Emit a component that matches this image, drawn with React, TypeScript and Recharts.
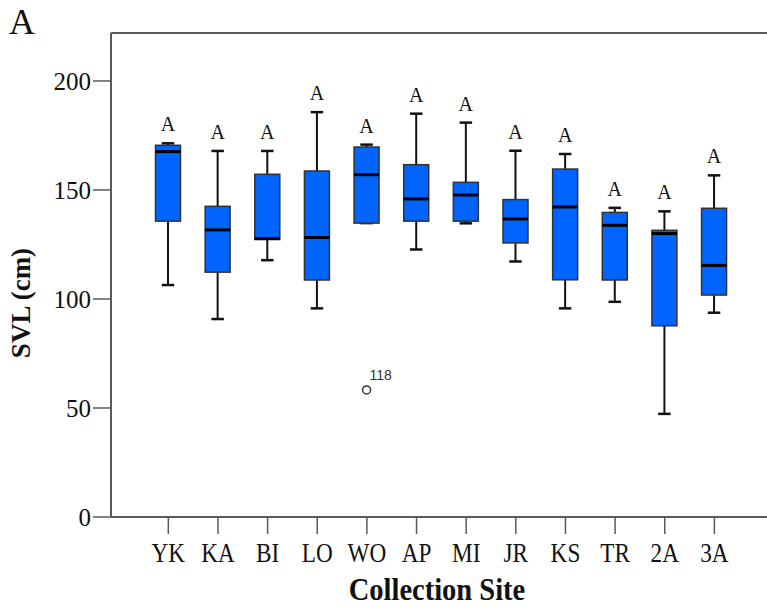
import { ComposedChart, Bar, XAxis, YAxis, ReferenceLine } from 'recharts';

// Snout-vent length by collection site
const SITES = ['YK', 'KA', 'BI', 'LO', 'WO', 'AP', 'MI', 'JR', 'KS', 'TR', '2A', '3A'];
const WHISKER_LOW = [106.4, 90.8, 117.8, 95.7, 134.8, 122.7, 134.7, 117.2, 95.7, 98.7, 47.3, 93.7];
const Q1 = [135.7, 112.3, 127.3, 108.7, 134.8, 135.7, 135.7, 125.7, 108.8, 108.7, 87.7, 101.8];
const MEDIAN = [167.6, 131.7, 127.7, 128.2, 157.0, 145.9, 147.7, 136.7, 142.2, 133.8, 130.0, 115.4];
const Q3 = [170.5, 142.5, 157.2, 158.7, 169.7, 161.6, 153.5, 145.6, 159.6, 139.7, 131.5, 141.6];
const WHISKER_HIGH = [171.4, 167.9, 167.9, 185.7, 170.8, 185.0, 180.9, 168.0, 166.5, 141.8, 140.2, 156.7];
const GROUP_LETTERS = ['A', 'A', 'A', 'A', 'A', 'A', 'A', 'A', 'A', 'A', 'A', 'A'];
const OUTLIER_SITES = ['WO'];
const OUTLIER_VALUES = [58.3];
const OUTLIER_IDS = ['118'];
const Y_TICKS = [0, 50, 100, 150, 200];
const Y_MAX = 222;

const AXIS = '#5a5a5a';
const BOX_FILL = '#0064ff';
const SERIF = '"Liberation Serif", "Times New Roman", serif';

const rows = SITES.map((site, i) => ({
  site,
  range: [WHISKER_LOW[i], WHISKER_HIGH[i]],
  q1: Q1[i],
  median: MEDIAN[i],
  q3: Q3[i],
  letter: GROUP_LETTERS[i],
  outliers: OUTLIER_SITES.map((s, j) => (s === site ? { value: OUTLIER_VALUES[j], id: OUTLIER_IDS[j] } : null)).filter(Boolean) as { value: number; id: string }[],
}));

function BoxShape(props: any) {
  const { x, y, width, height, payload } = props;
  const [lo, hi] = payload.range;
  const k = height / (hi - lo);
  const py = (v: number) => y + (hi - v) * k;
  const cx = x + width / 2;
  const cap = width * 0.25;
  return (
    <g>
      <line x1={cx} x2={cx} y1={py(hi)} y2={py(payload.q3)} stroke="#111" strokeWidth={2} />
      <line x1={cx} x2={cx} y1={py(payload.q1)} y2={py(lo)} stroke="#111" strokeWidth={2} />
      <line x1={cx - cap} x2={cx + cap} y1={py(hi)} y2={py(hi)} stroke="#111" strokeWidth={2.5} />
      <line x1={cx - cap} x2={cx + cap} y1={py(lo)} y2={py(lo)} stroke="#111" strokeWidth={2.5} />
      <rect
        x={x}
        y={py(payload.q3)}
        width={width}
        height={Math.max(py(payload.q1) - py(payload.q3), 0.5)}
        fill={BOX_FILL}
        stroke="#333"
        strokeWidth={1.5}
      />
      <line x1={x} x2={x + width} y1={py(payload.median)} y2={py(payload.median)} stroke="#000" strokeWidth={3} />
      <text x={cx} y={py(hi) - 12} textAnchor="middle" fontFamily={SERIF} fontSize={20} fill="#111">
        {payload.letter}
      </text>
      {payload.outliers.map((o: { value: number; id: string }) => (
        <g key={o.id}>
          <circle cx={cx} cy={py(o.value)} r={4} fill="#fff" stroke="#333" strokeWidth={1.5} />
          <text x={cx + 3} y={py(o.value) - 10} fontFamily="Arial, 'Liberation Sans', sans-serif" fontSize={14} fill="#333">
            {o.id}
          </text>
        </g>
      ))}
    </g>
  );
}

function SiteTick(props: any) {
  const { x, y, payload } = props;
  return (
    <g transform={`translate(${x},${y})`}>
      <text transform="scale(0.86,1)" x={0} y={26} textAnchor="middle" fontFamily={SERIF} fontSize={27} fill="#111">
        {payload.value}
      </text>
    </g>
  );
}

function XTitle(props: any) {
  const { viewBox } = props;
  const cx = viewBox.x + viewBox.width / 2 - 2;
  return (
    <g transform={`translate(${cx},${viewBox.y + 83})`}>
      <text transform="scale(0.92,1)" textAnchor="middle" fontFamily={SERIF} fontWeight="bold" fontSize={31} fill="#111">
        Collection Site
      </text>
    </g>
  );
}

function YTitle(props: any) {
  const { viewBox } = props;
  const cy = viewBox.y + viewBox.height / 2 + 28;
  return (
    <text
      x={30}
      y={cy}
      transform={`rotate(-90, 30, ${cy})`}
      textAnchor="middle"
      fontFamily={SERIF}
      fontWeight="bold"
      fontSize={27}
      fill="#111"
    >
      SVL (cm)
    </text>
  );
}

export default function App() {
  return (
    <div style={{ position: 'absolute', left: 0, top: 0, width: 767, height: 610, background: '#fff' }}>
      <div
        style={{
          position: 'absolute',
          left: 9,
          top: 1,
          fontFamily: SERIF,
          fontSize: 36,
          lineHeight: 'normal',
          color: '#111',
        }}
      >
        A
      </div>
      <ComposedChart width={767} height={610} data={rows} margin={{ top: 33, right: 0, bottom: 33, left: 0 }}>
        <XAxis
          dataKey="site"
          type="category"
          interval={0}
          padding={{ left: 32.5, right: 27.8 }}
          height={60}
          tickSize={17}
          stroke={AXIS}
          strokeWidth={2}
          tickLine={{ stroke: AXIS, strokeWidth: 1.5 }}
          tick={<SiteTick />}
          label={<XTitle />}
        />
        <YAxis
          type="number"
          domain={[0, Y_MAX]}
          ticks={Y_TICKS}
          allowDataOverflow
          width={111}
          tickSize={18}
          tickMargin={2}
          stroke={AXIS}
          strokeWidth={2}
          tickLine={{ stroke: AXIS, strokeWidth: 1.5 }}
          tick={{ fill: '#111', fontSize: 25, fontFamily: SERIF }}
          label={<YTitle />}
        />
        <ReferenceLine y={Y_MAX} stroke={AXIS} strokeWidth={2} />
        <Bar dataKey="range" barSize={25} shape={<BoxShape />} isAnimationActive={false} />
      </ComposedChart>
    </div>
  );
}
